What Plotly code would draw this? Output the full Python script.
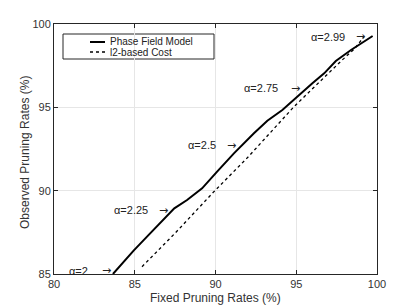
import plotly.graph_objects as go

# Phase Field Model (solid)
pf_x = [83.65, 84.04, 84.93, 85.76, 86.58, 87.45, 88.24, 89.17, 90.10, 91.14, 92.38, 93.21, 94.14, 94.97, 96.00, 96.73, 97.45, 98.39, 99.73]
pf_y = [85.00, 85.44, 86.40, 87.24, 88.08, 88.94, 89.44, 90.14, 91.14, 92.24, 93.44, 94.20, 94.84, 95.58, 96.44, 97.04, 97.78, 98.44, 99.28]

# l2-based cost (dashed)
l2_x = [85.45, 87.5, 89.9, 92.0, 94.86, 96.7, 97.8, 98.6, 99.2]
l2_y = [85.44, 87.45, 89.94, 92.0, 95.04, 96.8, 97.8, 98.5, 99.24]

# alpha labels
ann_text = ["α=2", "α=2.25", "α=2.5", "α=2.75", "α=2.99"]
ann_x = [82.23, 85.94, 90.15, 93.99, 98.14]   # right end of label
ann_y = [85.2, 88.84, 92.72, 96.14, 99.24]
arrow_x = [83.22, 86.75, 90.96, 94.98, 98.95]

legend_names = ["Phase Field Model", "l2-based Cost"]
x_title = "Fixed Pruning Rates (%)"
y_title = "Observed Pruning Rates (%)"

L, R, T, B = 54, 377, 24, 274
PW, PH = R - L, B - T
TXT = "#333333"


def px(x):
    return (x - L) / PW


def py(y):
    return (B - y) / PH


fig = go.Figure()
fig.add_trace(go.Scatter(x=pf_x, y=pf_y, mode="lines", name=legend_names[0],
                         line=dict(color="black", width=2), showlegend=False))
fig.add_trace(go.Scatter(x=l2_x, y=l2_y, mode="lines", name=legend_names[1],
                         line=dict(color="black", width=1.3, dash="3px,3px"), showlegend=False))

for t, x, y, ax in zip(ann_text, ann_x, ann_y, arrow_x):
    fig.add_annotation(x=x, y=y, xref="x", yref="y", text=t,
                       showarrow=False, xanchor="right", yanchor="middle",
                       font=dict(size=11, color="#222"))
    fig.add_annotation(x=ax, y=y, xref="x", yref="y", text="→",
                       showarrow=False, xanchor="center", yanchor="middle",
                       font=dict(size=11, color="#222", family="DejaVu Sans, sans-serif"))

axis_common = dict(showline=True, linecolor="#262626", linewidth=1, mirror="ticks",
                   ticks="inside", ticklen=4, tickcolor="#262626", automargin=False,
                   showgrid=True, gridcolor="#e6e6e6", gridwidth=1, zeroline=False,
                   tickfont=dict(size=11, color=TXT))

fig.update_xaxes(range=[80, 100], tickvals=[80, 85, 90, 95, 100], **axis_common)
fig.update_yaxes(range=[85, 100], tickvals=[85, 90, 95, 100], **axis_common)

# axis titles
fig.add_annotation(x=px((L + R) / 2), y=py(298), xref="paper", yref="paper", text=x_title,
                   showarrow=False, xanchor="center", yanchor="middle",
                   font=dict(size=12, color=TXT))
fig.add_annotation(x=px(25), y=py(153), xref="paper", yref="paper", text=y_title,
                   showarrow=False, xanchor="center", yanchor="middle", textangle=-90,
                   font=dict(size=12, color=TXT))

# legend box drawn manually
fig.add_shape(type="rect", xref="paper", yref="paper",
              x0=px(63), x1=px(214), y0=py(59), y1=py(34),
              line=dict(color="#262626", width=1), fillcolor="white", layer="between")
fig.add_shape(type="line", xref="paper", yref="paper",
              x0=px(90), x1=px(105), y0=py(42), y1=py(42),
              line=dict(color="black", width=2))
fig.add_shape(type="line", xref="paper", yref="paper",
              x0=px(90), x1=px(105), y0=py(52), y1=py(52),
              line=dict(color="black", width=1.3, dash="3px,3px"))
for name, yy in zip(legend_names, [42, 52]):
    fig.add_annotation(x=px(108), y=py(yy), xref="paper", yref="paper", text=name,
                       showarrow=False, xanchor="left", yanchor="middle",
                       font=dict(size=10, color="#222"))

fig.update_layout(
    width=415, height=308,
    margin=dict(l=L, r=415 - R, t=T, b=308 - B, autoexpand=False),
    plot_bgcolor="white", paper_bgcolor="white",
    font=dict(family="Liberation Sans, Arial, sans-serif", size=11, color=TXT),
    showlegend=False,
)

fig.write_html("out.html", post_script="document.body.style.margin='0';",
               config={"displayModeBar": False})
